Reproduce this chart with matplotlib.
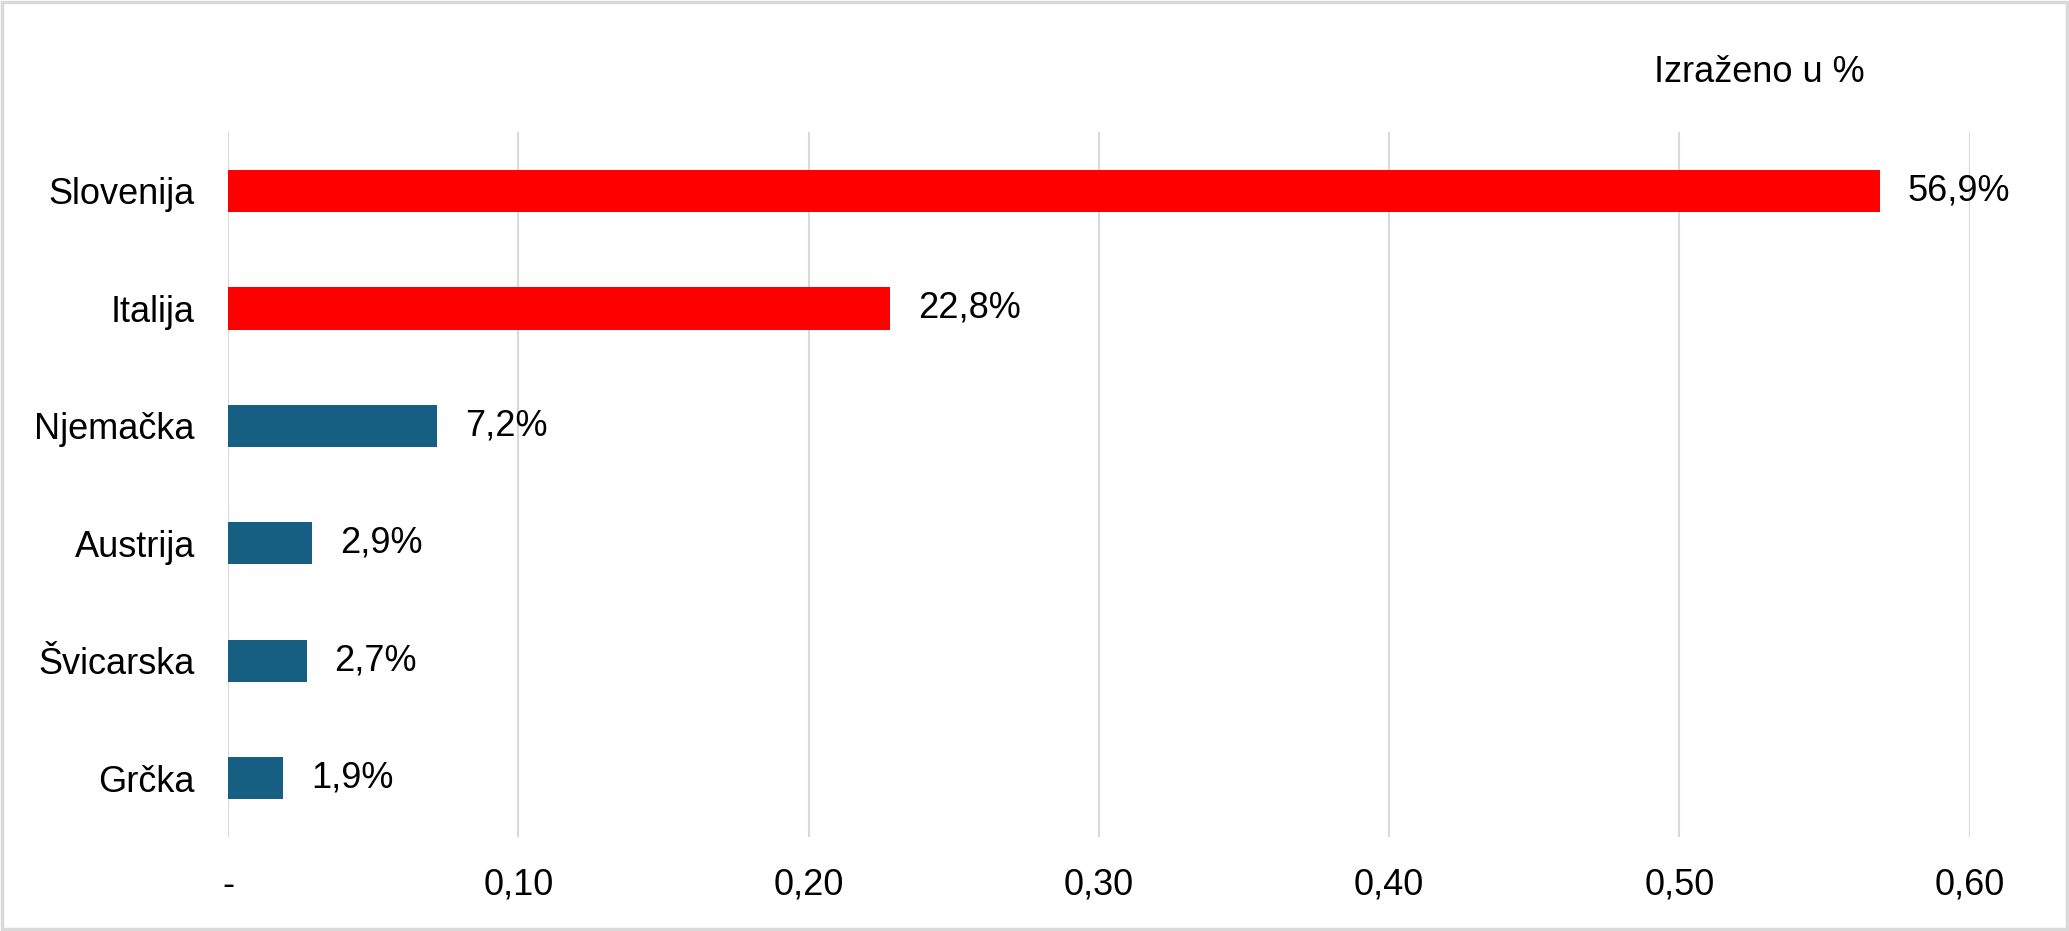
import matplotlib
matplotlib.use("Agg")
import matplotlib.pyplot as plt
from matplotlib.patches import Rectangle

plt.rcParams["font.family"] = ["Liberation Sans", "DejaVu Sans"]

# podaci
zemlje = ["Slovenija", "Italija", "Njemačka", "Austrija", "Švicarska", "Grčka"]
udjeli = [0.569, 0.228, 0.072, 0.029, 0.027, 0.019]
oznake = ["56,9%", "22,8%", "7,2%", "2,9%", "2,7%", "1,9%"]
boje = ["#FF0000", "#FF0000", "#175E83", "#175E83", "#175E83", "#175E83"]
x_ticks = [0.0, 0.1, 0.2, 0.3, 0.4, 0.5, 0.6]
x_ticklabels = ["-", "0,10", "0,20", "0,30", "0,40", "0,50", "0,60"]

fig = plt.figure(figsize=(20.69, 9.31), dpi=100)
ax = fig.add_axes([0.1103, 0.101, 0.8417, 0.757])

pos = list(range(len(zemlje)))
ax.barh(pos, udjeli, height=0.36, color=boje, zorder=3)
for p, v, t in zip(pos, udjeli, oznake):
    ax.annotate(t, (v, p), xytext=(20, 0), textcoords="offset points",
                ha="left", va="center", fontsize=26, color="black")

ax.set_xlim(0, 0.6)
ax.set_ylim(len(zemlje) - 0.5, -0.5)
ax.set_yticks(pos)
ax.set_yticklabels(zemlje, fontsize=26)
ax.set_xticks(x_ticks)
ax.set_xticklabels(x_ticklabels, fontsize=26)
ax.tick_params(axis="both", length=0)
ax.tick_params(axis="x", pad=22)
ax.tick_params(axis="y", pad=24)
ax.grid(axis="x", color="#D9D9D9", linewidth=1.5, zorder=0)
for s in ax.spines.values():
    s.set_visible(False)

fig.text(0.901, 0.922, "Izraženo u %", ha="right", va="center", fontsize=26)

# okvir oko cijele slike
fig.patches.append(Rectangle((0.001, 0.002), 0.998, 0.996, transform=fig.transFigure,
                             fill=False, edgecolor="#D9D9D9", linewidth=2.5))

fig.savefig("out.png", dpi=100)
